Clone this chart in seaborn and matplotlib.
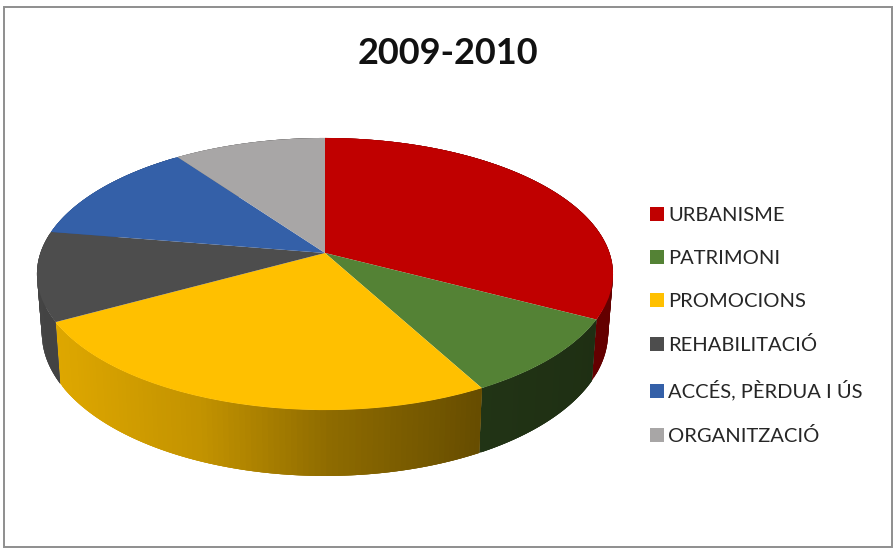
import numpy as np
import matplotlib
matplotlib.use("Agg")
import matplotlib.pyplot as plt
import matplotlib.transforms as mtransforms
from matplotlib.collections import PolyCollection
from matplotlib.patches import Rectangle
import seaborn as sns

title = "2009-2010"
categories = ["URBANISME", "PATRIMONI", "PROMOCIONS", "REHABILITACIÓ", "ACCÉS, PÈRDUA I ÚS", "ORGANITZACIÓ"]
shares = [32.7, 9.4, 24.9, 10.6, 12.5, 9.9]

palette = sns.color_palette(["#C00000", "#548235", "#FFC000", "#4D4D4D", "#3460A8", "#A8A6A6"])
wall_gain = [1.45, 1.0, 1.0, 1.0, 1.0, 1.0]

sns.set_theme(style="white")
plt.rcParams["font.family"] = ["Lato", "DejaVu Sans"]

# perspective of the pie, in pixels of the picture
CX, CY = 325, 253
A, B, K = 284.6, 132.8, 0.1544
SHRINK, DROP = 0.983, 58


def project(x, y, low=False):
    v = -np.asarray(y)
    w = 1 - K * v
    if low:
        return CX + SHRINK * A * np.asarray(x) / w, CY + (SHRINK * B * v + DROP) / w
    return CX + A * np.asarray(x) / w, CY + B * v / w


class TopFace(mtransforms.Transform):
    input_dims = 2
    output_dims = 2
    is_separable = False

    def transform_non_affine(self, values):
        px, py = project(values[:, 0], values[:, 1])
        return np.column_stack([px, py])


fig, ax = plt.subplots(figsize=(8.93, 5.48), dpi=100)
fig.subplots_adjust(0, 0, 1, 1)

wedges, _ = ax.pie(shares, colors=palette, startangle=90, counterclock=False, radius=1)
ax.set_aspect("auto")
ax.set_xlim(0, 893)
ax.set_ylim(548, 0)
ax.axis("off")

face = TopFace() + ax.transData
for wedge in wedges:
    wedge.set_transform(face)
    wedge.set_linewidth(0)
    wedge.set_zorder(3)

# side wall: thin overlapping quads under each wedge, darker to the right
for wedge, col, gain in zip(wedges, palette, wall_gain):
    t = np.radians(np.linspace(wedge.theta1, wedge.theta2, 90))
    x, y = np.cos(t), np.sin(t)
    tx, ty = project(x, y)
    bx, by = project(x, y, low=True)
    quads, cols = [], []
    for i in range(len(t) - 1):
        j = min(i + 3, len(t) - 1)
        quads.append([(tx[i], ty[i]), (tx[j], ty[j]), (bx[j], by[j]), (bx[i], by[i])])
        f = np.interp(tx[i], [37, 70, 200, 325, 480, 600], [0.88, 0.86, 0.76, 0.56, 0.40, 0.36])
        cols.append(np.clip(np.array(col) * f * gain, 0, 1))
    ax.add_collection(PolyCollection(quads, facecolors=cols, edgecolors="none", zorder=2))

ax.add_patch(Rectangle((3.5, 6.5), 888, 540, fill=False, edgecolor="#8E8E8E", linewidth=1.4, zorder=1))

ax.text(448, 54, title, ha="center", va="center", fontsize=26, fontweight="bold", color="#111111")

ax.legend(wedges, categories, loc="upper left", bbox_to_anchor=(650 / 893, 1 - 207 / 548),
          frameon=False, fontsize=14.5, labelcolor="#262626", handlelength=0.7, handleheight=0.7,
          handletextpad=0.2, labelspacing=1.29, borderpad=0, borderaxespad=0)

fig.savefig("out.png", dpi=100)
